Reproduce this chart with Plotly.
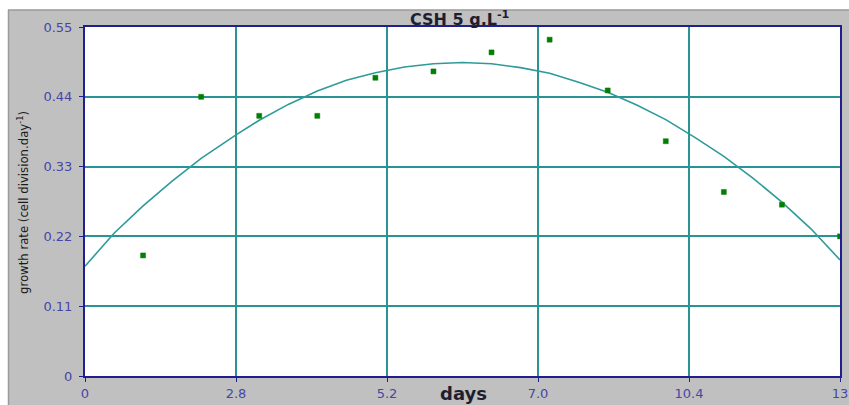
import plotly.graph_objects as go

# Measured growth rate per day
days = [1, 2, 3, 4, 5, 6, 7, 8, 9, 10, 11, 12, 13]
growth_rate = [0.19, 0.44, 0.41, 0.41, 0.47, 0.48, 0.51, 0.53, 0.45, 0.37, 0.29, 0.27, 0.22]

# Fitted trend curve
fit_days = [0, 0.5, 1.0, 1.5, 2.0, 2.6, 3.0, 3.5, 4.0, 4.5, 5.0, 5.5, 6.0, 6.5,
            7.0, 7.5, 8.0, 8.5, 9.0, 9.5, 10.0, 10.5, 11.0, 11.5, 12.0, 12.5, 13.0]
fit_rate = [0.173, 0.225, 0.268, 0.307, 0.343, 0.380, 0.403, 0.428, 0.449, 0.466,
            0.478, 0.487, 0.492, 0.494, 0.492, 0.486, 0.477, 0.463, 0.447, 0.427,
            0.404, 0.376, 0.346, 0.312, 0.274, 0.232, 0.183]

x_tickvals = [0, 2.6, 5.2, 7.8, 10.4, 13]
x_ticktext = ["0", "2.8", "5.2", "7.0", "10.4", "13"]
y_tickvals = [0, 0.11, 0.22, 0.33, 0.44, 0.55]
y_ticktext = ["0", "0.11", "0.22", "0.33", "0.44", "0.55"]

W, H = 849, 405
ML, MR, MT, MB = 85, 9, 27, 29
PW, PH = W - ML - MR, H - MT - MB


def px(x):
    return (x - ML) / PW


def py(y):
    return (H - MB - y) / PH


NAVY = "#1f1f8f"
TEAL = "#2a9494"
GRAY = "#c0c0c0"

fig = go.Figure()

fig.add_trace(go.Scatter(
    x=fit_days, y=fit_rate, mode="lines",
    line=dict(color="#2f9a9a", width=1.6),
    hoverinfo="skip",
))

fig.add_trace(go.Scatter(
    x=days, y=growth_rate, mode="markers",
    marker=dict(symbol="square", size=5, color="#008000",
                line=dict(width=0.5, color="#0a7a0a")),
))

tickfont = dict(family="DejaVu Sans", size=13, color="#4646a8")

fig.update_xaxes(
    range=[0, 13], tickmode="array", tickvals=x_tickvals, ticktext=x_ticktext,
    showgrid=True, gridcolor=TEAL, gridwidth=2,
    showline=True, linecolor=NAVY, linewidth=2, mirror=True,
    ticks="outside", ticklen=4, tickcolor=NAVY, tickwidth=1,
    tickfont=tickfont, zeroline=False, fixedrange=True,
    automargin=False, ticklabeloverflow="allow",
)
fig.update_yaxes(
    range=[0, 0.55], tickmode="array", tickvals=y_tickvals, ticktext=y_ticktext,
    showgrid=True, gridcolor=TEAL, gridwidth=2,
    showline=True, linecolor=NAVY, linewidth=2, mirror=True,
    ticks="outside", ticklen=4, tickcolor=NAVY, tickwidth=1,
    ticklabelstandoff=4,
    tickfont=tickfont, zeroline=False, fixedrange=True,
    automargin=False, ticklabeloverflow="allow",
)

shapes = [
    # white strip across the top
    dict(type="rect", xref="paper", yref="paper", x0=px(-20), x1=px(W + 20),
         y0=py(-20), y1=py(10), fillcolor="white", line=dict(width=0), layer="below"),
    # white strip on the left
    dict(type="rect", xref="paper", yref="paper", x0=px(-20), x1=px(8),
         y0=py(-20), y1=py(H + 20), fillcolor="white", line=dict(width=0), layer="below"),
    # frame edges
    dict(type="line", xref="paper", yref="paper", x0=px(8), x1=px(W + 20),
         y0=py(10), y1=py(10), line=dict(color="#9a9a9a", width=1.5)),
    dict(type="line", xref="paper", yref="paper", x0=px(8.5), x1=px(8.5),
         y0=py(10), y1=py(H + 20), line=dict(color="#9a9a9a", width=1.5)),
]

annotations = [
    dict(text="<b>CSH 5 g.L<sup>-1</sup></b>", xref="paper", yref="paper",
         x=px(460), y=py(18), xanchor="center", yanchor="middle", showarrow=False,
         font=dict(family="DejaVu Sans", size=16, color="#1e1e30")),
    dict(text="<b>days</b>", xref="paper", yref="paper",
         x=px(463), y=py(394), xanchor="center", yanchor="middle", showarrow=False,
         font=dict(family="DejaVu Sans", size=18, color="#1e1e30")),
    dict(text="growth rate (cell division.day<sup>-1</sup>)", xref="paper", yref="paper",
         x=px(23), y=py(203), xanchor="center", yanchor="middle", showarrow=False,
         textangle=-90,
         font=dict(family="Liberation Sans Narrow, DejaVu Sans Condensed, Liberation Sans",
                   size=13, color="#1a1a1a")),
]

fig.update_layout(
    width=W, height=H,
    margin=dict(l=ML, r=MR, t=MT, b=MB, pad=0, autoexpand=False),
    paper_bgcolor=GRAY, plot_bgcolor="white",
    showlegend=False,
    shapes=shapes, annotations=annotations,
)

fig.write_html("out.html")
